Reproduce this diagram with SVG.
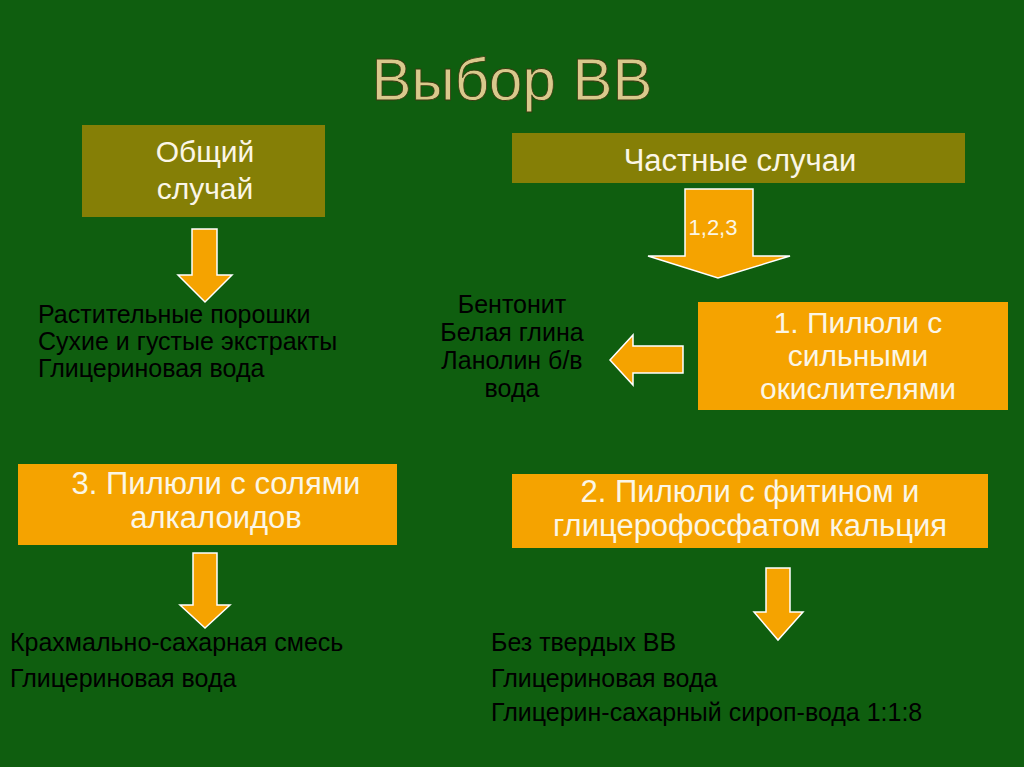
<svg xmlns="http://www.w3.org/2000/svg" width="1024" height="767" viewBox="0 0 1024 767">
<style>
text{font-family:"Liberation Sans",Arial,sans-serif}
.ol{fill:#857f06}
.or{fill:#f5a300}
.ar{fill:#f5a300;stroke:#fff;stroke-width:1.5}
.w{fill:#fbf6e6;text-anchor:middle}
.b{fill:#000;font-size:25px}
</style>
<rect width="1024" height="767" fill="#0f5e0f"/>
<text x="512" y="100" font-size="60" fill="#d9c98c" stroke="#3a3a10" stroke-width="0.8" text-anchor="middle">Выбор ВВ</text>
<g id="general"><rect class="ol" x="82" y="125" width="243" height="92"/>
<text class="w" x="205" y="162" font-size="30">Общий</text><text class="w" x="205" y="199" font-size="30">случай</text></g>
<g id="special"><rect class="ol" x="512" y="133" width="453" height="50"/>
<text class="w" x="740" y="171" font-size="31">Частные случаи</text></g>
<g id="case1"><rect class="or" x="698" y="302" width="310" height="108"/>
<text class="w" x="858" y="333" font-size="30">1. Пилюли с</text><text class="w" x="858" y="366" font-size="30">сильными</text><text class="w" x="858" y="399" font-size="30">окислителями</text></g>
<g id="case3"><rect class="or" x="18" y="464" width="379" height="81"/>
<text class="w" x="216" y="494" font-size="31">3. Пилюли с солями</text><text class="w" x="216" y="528" font-size="31">алкалоидов</text></g>
<g id="case2"><rect class="or" x="512" y="474" width="476" height="74"/>
<text class="w" x="750" y="502" font-size="31">2. Пилюли с фитином и</text><text class="w" x="750" y="536" font-size="31">глицерофосфатом кальция</text></g>
<g id="connectors">
<polygon class="ar" points="685,189 753,189 753,256 790,256 718,278 648,256 685,256"/>
<polygon class="ar" points="192,229 217,229 217,275 232,275 205,302 178,275 192,275"/>
<polygon class="ar" points="683,346 683,373 633,373 633,385 610,360 633,335 633,346"/>
<polygon class="ar" points="193,553 217,553 217,605 230,605 205,628 180,605 193,605"/>
<polygon class="ar" points="766,568 790,568 790,612 803,612 778,640 754,612 766,612"/>
</g>
<text class="w" x="713" y="235" font-size="22">1,2,3</text>
<g id="t1" class="b" text-anchor="middle"><text x="512" y="313">Бентонит</text><text x="512" y="341">Белая глина</text><text x="512" y="369">Ланолин б/в</text><text x="512" y="397">вода</text></g>
<g id="t0" class="b"><text x="38" y="323">Растительные порошки</text><text x="38" y="350">Сухие и густые экстракты</text><text x="38" y="377">Глицериновая вода</text></g>
<g id="t3" class="b"><text x="10" y="651">Крахмально-сахарная смесь</text><text x="10" y="687">Глицериновая вода</text></g>
<g id="t2" class="b"><text x="491" y="651">Без твердых ВВ</text><text x="491" y="687">Глицериновая вода</text><text x="491" y="721">Глицерин-сахарный сироп-вода 1:1:8</text></g>
</svg>
